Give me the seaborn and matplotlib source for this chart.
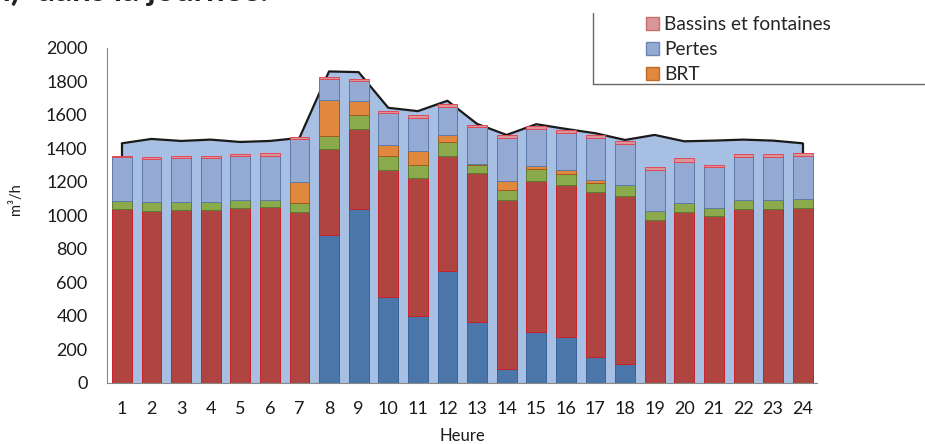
"""Consommation horaire par poste, barres empilees sur la courbe du total."""
import numpy as np
import matplotlib
matplotlib.use("Agg")
import matplotlib.pyplot as plt
from matplotlib.patches import Patch
from matplotlib.lines import Line2D
import seaborn as sns

# Donnees (m3/h)
heures = [str(h) for h in range(1, 25)]
serie_bleue = [0, 0, 0, 0, 0, 0, 0, 884, 1036, 513, 399, 671,
               363, 86, 305, 277, 156, 114, 0, 0, 0, 0, 0, 0]
serie_rouge = [1038, 1028, 1030, 1030, 1044, 1048, 1020, 511, 479, 760, 823, 682,
               890, 1008, 903, 907, 982, 1004, 972, 1020, 996, 1040, 1040, 1042]
serie_verte = [50, 52, 50, 52, 50, 46, 52, 82, 84, 82, 79, 84,
               50, 56, 67, 65, 56, 62, 54, 54, 46, 50, 50, 54]
brt = [0, 0, 0, 0, 0, 0, 126, 212, 86, 64, 86, 42,
       4, 58, 22, 24, 20, 0, 0, 0, 0, 0, 0, 0]
pertes = [259, 257, 261, 259, 259, 263, 259, 125, 115, 190, 198, 170,
          220, 253, 220, 222, 249, 247, 245, 247, 245, 259, 259, 257]
bassins = [10, 14, 12, 12, 14, 14, 10, 10, 12, 14, 16, 16,
           16, 18, 16, 18, 18, 18, 16, 22, 16, 18, 18, 18]
total = [1431, 1457, 1445, 1453, 1439, 1445, 1463, 1860, 1856, 1643, 1623, 1685,
         1547, 1481, 1545, 1517, 1491, 1451, 1481, 1443, 1447, 1453, 1447, 1431]

# (valeurs, couleur, bordure)
couches = [
    (serie_bleue, '#4A76AA', '#3A6498'),
    (serie_rouge, '#B04440', '#C8202C'),
    (serie_verte, '#8AAA4C', '#5E7A32'),
    (brt, '#E0883E', '#A05A20'),
    (pertes, '#94AAD3', '#5A7AAA'),
    (bassins, '#DA9696', '#E04858'),
]

sns.set_style("white")
plt.rcParams['font.family'] = ['Lato', 'DejaVu Sans']

fig = plt.figure(figsize=(9.25, 4.44), dpi=100)
ax = fig.add_axes([0.1157, 0.1374, 0.768, 0.7545])

# Surface du total en arriere-plan
x = np.arange(len(heures))
ax.fill_between(x, total, color='#A7BFE2', linewidth=0, zorder=1)
ax.plot(x, total, color='#1a1a1a', lw=1.6, zorder=1.5)
ax.vlines([x[0], x[-1]], 0, [total[0], total[-1]], color='#1a1a1a', lw=1.6, zorder=1.5)

# Barres empilees
bas = np.zeros(len(heures))
for valeurs, couleur, bord in couches:
    sns.barplot(x=heures, y=valeurs, order=heures, bottom=bas, color=couleur,
                saturation=1, edgecolor=bord, linewidth=0.7, width=0.67,
                errorbar=None, ax=ax, zorder=2)
    for p in ax.patches[-len(heures):]:
        if p.get_height() == 0:
            p.set_visible(False)
    bas += np.array(valeurs)

ax.set_ylim(0, 2000)
ax.set_xlim(-0.5, len(heures) - 0.5)
ax.set_yticks(range(0, 2001, 200))
ax.set_xticks(np.arange(-0.5, len(heures), 1), minor=True)
ax.tick_params(axis='y', direction='in', length=5, color='#888888',
               pad=14, labelsize=13, labelcolor='#1a1a1a')
ax.tick_params(axis='x', which='major', length=0, pad=13, labelsize=13,
               labelcolor='#1a1a1a')
ax.tick_params(axis='x', which='minor', direction='in', length=4, color='#999999')

sns.despine(ax=ax)
for s in ['left', 'bottom']:
    ax.spines[s].set_color('#888888')
    ax.spines[s].set_linewidth(0.8)

ax.set_ylabel('m³/h', fontsize=10.5, color='#1a1a1a')
ax.yaxis.set_label_coords(-0.118, 0.55)
ax.set_xlabel('Heure', fontsize=12, color='#1a1a1a')
ax.xaxis.set_label_coords(0.5, -0.135)

# Legende (partiellement coupee en haut)
poignees = [Patch(facecolor='#DA9696', edgecolor='#C87070', label='Bassins et fontaines'),
            Patch(facecolor='#94AAD3', edgecolor='#6A88B8', label='Pertes'),
            Patch(facecolor='#E0883E', edgecolor='#C06A28', label='BRT')]
fig.legend(handles=poignees, loc='upper left', bbox_to_anchor=(646 / 925, 1 - 16 / 444),
           frameon=False, fontsize=13.8, handlelength=0.68, handleheight=0.68,
           handletextpad=0.28, labelspacing=0.42, borderpad=0, borderaxespad=0)
fig.add_artist(Line2D([593 / 925, 593 / 925], [1 - 13 / 444, 1 - 84 / 444],
                      transform=fig.transFigure, color='#666666', lw=1))
fig.add_artist(Line2D([593 / 925, 1], [1 - 84 / 444, 1 - 84 / 444],
                      transform=fig.transFigure, color='#666666', lw=1))

# Titre coupe en haut de l'image
fig.text(268 / 925, 1 - 1 / 444, '(m³/h)  dans la journée.', ha='right', va='baseline',
         fontsize=24, fontweight='bold', color='#222222')

fig.savefig('out.png', dpi=100)
